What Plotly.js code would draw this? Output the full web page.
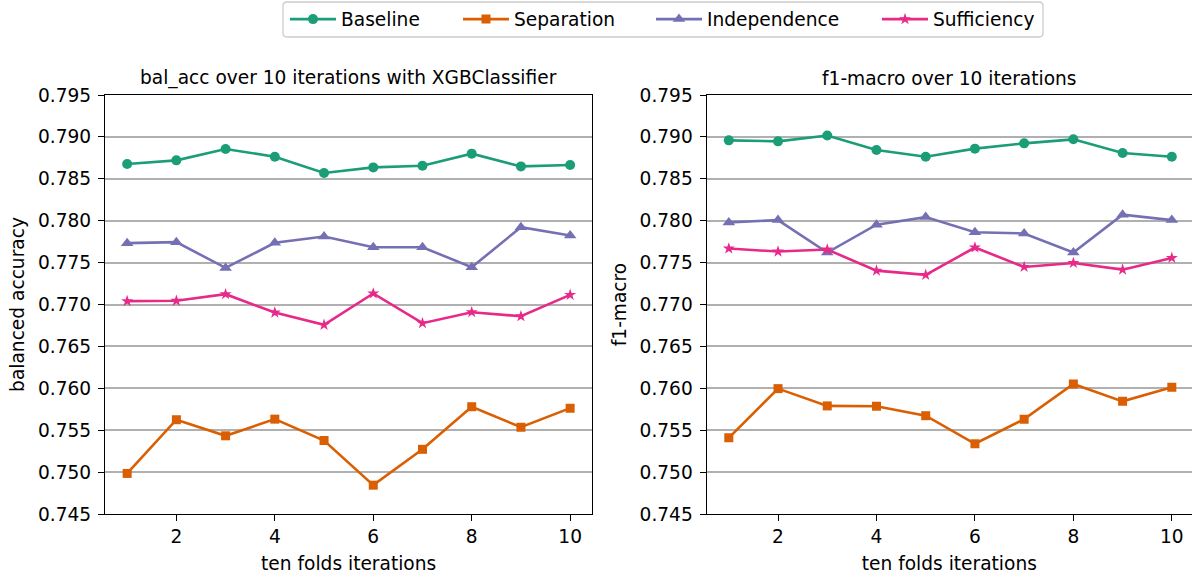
<!DOCTYPE html>
<html>
<head>
<meta charset="utf-8">
<script src="https://cdn.plot.ly/plotly-3.0.1.min.js"></script>
<style>
  html, body { margin: 0; padding: 0; background: #ffffff; }
  #chart { width: 1192px; height: 577px; }
</style>
</head>
<body>
<div id="chart"></div>
<script>
// ---- data ----
const iterations = [1, 2, 3, 4, 5, 6, 7, 8, 9, 10];
const seriesNames = ["Baseline", "Separation", "Independence", "Sufficiency"];

const balAccBaseline     = [0.78677, 0.78720, 0.78856, 0.78764, 0.78569, 0.78636, 0.78656, 0.78800, 0.78648, 0.78665];
const balAccSeparation   = [0.74984, 0.75625, 0.75433, 0.75632, 0.75377, 0.74844, 0.75272, 0.75780, 0.75536, 0.75763];
const balAccIndependence = [0.77732, 0.77744, 0.77437, 0.77736, 0.77812, 0.77684, 0.77684, 0.77444, 0.77923, 0.77824];
const balAccSufficiency  = [0.77040, 0.77045, 0.77123, 0.76904, 0.76757, 0.77132, 0.76777, 0.76908, 0.76860, 0.77115];

const f1Baseline     = [0.78959, 0.78947, 0.79016, 0.78844, 0.78764, 0.78860, 0.78923, 0.78971, 0.78808, 0.78764];
const f1Separation   = [0.75409, 0.75996, 0.75790, 0.75786, 0.75673, 0.75338, 0.75632, 0.76052, 0.75844, 0.76012];
const f1Independence = [0.77980, 0.78007, 0.77620, 0.77952, 0.78043, 0.77863, 0.77848, 0.77620, 0.78072, 0.78007];
const f1Sufficiency  = [0.77668, 0.77632, 0.77656, 0.77404, 0.77353, 0.77680, 0.77448, 0.77496, 0.77416, 0.77556];

const yTickVals = [0.745, 0.750, 0.755, 0.760, 0.765, 0.770, 0.775, 0.780, 0.785, 0.790, 0.795];
const xTickVals = [2, 4, 6, 8, 10];

const leftTitle = "bal_acc over 10 iterations with XGBClassifier";
const rightTitle = "f1-macro over 10 iterations";
const leftYTitle = "balanced accuracy";
const rightYTitle = "f1-macro";
const xTitle = "ten folds iterations";

// ---- styles ----
const colors = ["#1b9e77", "#d95f02", "#7570b3", "#e7298a"];
const symbols = ["circle", "square", "triangle-up", "star"];
const sizes = [10, 9, 11, 9];
const FONT = "DejaVu Sans, sans-serif";
const FS = 18.6;

// figure geometry (pixels)
const W = 1192, H = 577, ML = 105, MR = 0, MT = 95, MB = 63;
const PW = W - ML - MR, PH = H - MT - MB;
const px2x = p => (p - ML) / PW;
const py2y = p => (H - MB - p) / PH;

const leftData = [balAccBaseline, balAccSeparation, balAccIndependence, balAccSufficiency];
const rightData = [f1Baseline, f1Separation, f1Independence, f1Sufficiency];
const legendIds = ["legend", "legend2", "legend3", "legend4"];
const legendLeftPx = [285, 458, 651, 877];

const traces = [];
for (let i = 0; i < 4; i++) {
  traces.push({
    x: iterations, y: leftData[i], xaxis: "x", yaxis: "y",
    type: "scatter", mode: "lines+markers", name: seriesNames[i],
    legend: legendIds[i], legendgroup: seriesNames[i], showlegend: true,
    line: {color: colors[i], width: 2.6},
    marker: {color: colors[i], symbol: symbols[i], size: sizes[i], line: {width: 0}}
  });
}
for (let i = 0; i < 4; i++) {
  traces.push({
    x: iterations, y: rightData[i], xaxis: "x2", yaxis: "y2",
    type: "scatter", mode: "lines+markers", name: seriesNames[i],
    legend: legendIds[i], legendgroup: seriesNames[i], showlegend: false,
    line: {color: colors[i], width: 2.6},
    marker: {color: colors[i], symbol: symbols[i], size: sizes[i], line: {width: 0}}
  });
}

const xCommon = {
  tickmode: "array", tickvals: xTickVals, ticks: "outside", ticklen: 6, tickwidth: 1.2,
  tickcolor: "#000", showline: true, linecolor: "#000", linewidth: 1.3, mirror: true,
  showgrid: false, zeroline: false, tickfont: {family: FONT, size: FS, color: "#000"},
  title: {text: xTitle, font: {family: FONT, size: FS, color: "#000"}, standoff: 10},
  automargin: false
};
const yCommon = {
  range: [0.745, 0.795], tickmode: "array", tickvals: yTickVals, tickformat: ".3f",
  ticks: "outside", ticklen: 6, tickwidth: 1.2, tickcolor: "#000",
  showline: true, linecolor: "#000", linewidth: 1.3,
  showgrid: true, gridcolor: "#b0b0b0", gridwidth: 1.5, zeroline: false,
  tickfont: {family: FONT, size: FS, color: "#000"}, ticklabelstandoff: 3,
  automargin: false
};

const layout = {
  width: W, height: H,
  paper_bgcolor: "#ffffff", plot_bgcolor: "#ffffff",
  margin: {l: ML, r: MR, t: MT, b: MB},
  font: {family: FONT, size: FS, color: "#000"},
  showlegend: true,
  xaxis: Object.assign({}, xCommon, {domain: [0, 0.4483], range: [0.55, 10.45], anchor: "y"}),
  xaxis2: Object.assign({}, xCommon, {domain: [0.5535, 1], range: [0.55, 10.41], anchor: "y2"}),
  yaxis: Object.assign({}, yCommon, {domain: [0, 1], anchor: "x", mirror: true,
    title: {text: leftYTitle, font: {family: FONT, size: FS, color: "#000"}, standoff: 8}}),
  yaxis2: Object.assign({}, yCommon, {domain: [0, 1], anchor: "x2", mirror: false,
    title: {text: rightYTitle, font: {family: FONT, size: FS, color: "#000"}, standoff: 8}}),
  annotations: [
    {text: leftTitle, xref: "x domain", yref: "y domain", x: 0.5, y: 1, xanchor: "center",
     yanchor: "bottom", yshift: 4, showarrow: false, font: {family: FONT, size: FS, color: "#000"}},
    {text: rightTitle, xref: "x2 domain", yref: "y2 domain", x: 0.5, y: 1, xanchor: "center",
     yanchor: "bottom", yshift: 4, showarrow: false, font: {family: FONT, size: FS, color: "#000"}}
  ]
};

// one legend per entry, laid out to match the reference spacing
for (let i = 0; i < 4; i++) {
  layout[legendIds[i]] = {
    orientation: "h", x: px2x(legendLeftPx[i]), xanchor: "left",
    y: py2y(19.5), yanchor: "middle", itemwidth: 46,
    bgcolor: "rgba(0,0,0,0)", borderwidth: 0,
    font: {family: FONT, size: FS, color: "#000"}
  };
}

// legend frame (rounded rectangle)
const bx0 = px2x(283), bx1 = px2x(1043), by0 = py2y(37), by1 = py2y(2);
const rx = 4 / PW, ry = 4 / PH;
layout.shapes = [{
  type: "path", xref: "paper", yref: "paper", layer: "below",
  path: `M ${bx0 + rx},${by0} L ${bx1 - rx},${by0} Q ${bx1},${by0} ${bx1},${by0 + ry} ` +
        `L ${bx1},${by1 - ry} Q ${bx1},${by1} ${bx1 - rx},${by1} L ${bx0 + rx},${by1} ` +
        `Q ${bx0},${by1} ${bx0},${by1 - ry} L ${bx0},${by0 + ry} Q ${bx0},${by0} ${bx0 + rx},${by0} Z`,
  line: {color: "#cccccc", width: 1.3}, fillcolor: "rgba(0,0,0,0)"
}];

Plotly.newPlot("chart", traces, layout, {displayModeBar: false, responsive: false});
</script>
</body>
</html>
